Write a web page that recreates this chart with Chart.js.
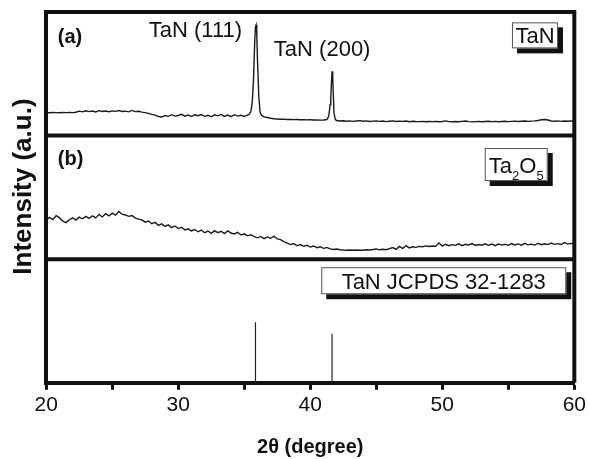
<!DOCTYPE html>
<html>
<head>
<meta charset="utf-8">
<title>XRD TaN / Ta2O5</title>
<script src="https://cdn.jsdelivr.net/npm/chart.js@4.4.1/dist/chart.umd.min.js"></script>
<style>
  html, body { margin: 0; padding: 0; background: #fff; }
  #wrap { width: 589px; height: 459px; }
</style>
</head>
<body>
<div id="wrap"><canvas id="mycanvas"></canvas></div>
<script>
// (a) TaN film - 2theta and intensity (a.u., 0-100 inside its panel)
var tanTheta = [
  20.00, 20.25, 20.50, 20.75, 21.00, 21.25, 21.50, 21.75, 22.00, 22.25,
  22.50, 22.75, 23.00, 23.25, 23.50, 23.75, 24.00, 24.25, 24.50, 24.75,
  25.00, 25.25, 25.50, 25.75, 26.00, 26.25, 26.50, 26.75, 27.00, 27.25,
  27.50, 27.75, 28.00, 28.25, 28.50, 28.75, 29.00, 29.25, 29.50, 29.75,
  30.00, 30.25, 30.50, 30.75, 31.00, 31.25, 31.50, 31.75, 32.00, 32.25,
  32.50, 32.75, 33.00, 33.25, 33.50, 33.75, 34.00, 34.25, 34.50, 34.75,
  35.00, 35.25,
  35.40, 35.50, 35.60, 35.70, 35.80, 35.85, 35.90, 35.95, 36.00, 36.10, 36.20, 36.30, 36.50,
  36.75, 37.00, 37.25, 37.50, 37.75, 38.00, 38.25, 38.50, 38.75, 39.00,
  39.25, 39.50, 39.75, 40.00, 40.25, 40.50, 40.75, 41.00,
  41.20, 41.30, 41.40, 41.45, 41.50, 41.55, 41.60, 41.65, 41.70, 41.75, 41.80, 41.90, 42.00,
  42.25, 42.50, 42.75, 43.00, 43.25, 43.50, 43.75, 44.00, 44.25, 44.50,
  44.75, 45.00, 45.25, 45.50, 45.75, 46.00, 46.25, 46.50, 46.75, 47.00,
  47.25, 47.50, 47.75, 48.00, 48.25, 48.50, 48.75, 49.00, 49.25, 49.50,
  49.75, 50.00, 50.25, 50.50, 50.75, 51.00, 51.25, 51.50, 51.75, 52.00,
  52.25, 52.50, 52.75, 53.00, 53.25, 53.50, 53.75, 54.00, 54.25, 54.50,
  54.75, 55.00, 55.25, 55.50, 55.75, 56.00, 56.25, 56.50, 56.75, 57.00,
  57.25, 57.50, 57.75, 58.00, 58.25, 58.50, 58.75, 59.00, 59.25, 59.50,
  59.75, 60.00
];
var tanIntensity = [
  18.6, 18.5, 18.7, 18.6, 18.5, 18.7, 18.6, 18.8, 18.6, 18.9,
  19.8, 19.2, 20.1, 19.4, 19.9, 19.1, 20.2, 19.5, 19.9, 19.3,
  20.0, 19.6, 20.3, 19.5, 19.8, 19.2, 20.4, 19.4, 19.7, 19.0,
  18.6, 18.0, 17.2, 16.6, 15.4, 15.0, 16.2, 15.6, 16.9, 15.8,
  16.3, 17.2, 15.7, 16.6, 15.4, 16.9, 16.1, 17.0, 15.6, 16.4,
  15.2, 16.8, 16.0, 17.1, 15.5, 16.6, 15.3, 16.9, 15.8, 16.4,
  15.6, 16.5,
  17.5, 19.5, 26.0, 45.0, 78.0, 88.0, 89.5, 82.0, 62.0, 32.0, 19.0, 16.5, 15.2,
  14.6, 14.0, 13.6, 13.4, 13.2, 13.3, 13.0, 13.1, 12.9, 13.0,
  12.8, 12.9, 12.7, 12.8, 12.6, 12.7, 12.5, 12.6,
  12.8, 13.5, 16.0, 20.0, 25.0, 30.0, 42.0, 52.0, 47.0, 32.0, 18.0, 13.0, 12.2,
  11.8, 12.0, 11.6, 11.9, 11.5, 11.8, 12.1, 11.6, 11.9, 11.4,
  11.7, 11.9, 11.5, 11.8, 11.3, 11.6, 11.9, 11.4, 11.7, 11.5,
  11.8, 11.2, 11.6, 11.4, 11.3, 11.5, 11.2, 11.4, 11.3, 11.5,
  11.2, 11.4, 11.9, 11.3, 11.2, 11.4, 11.2, 11.5, 11.8, 11.3,
  11.1, 11.3, 11.5, 11.2, 11.4, 11.6, 11.3, 11.5, 11.2, 11.4,
  11.6, 11.3, 11.5, 11.7, 11.4, 11.6, 11.8, 11.5, 11.7, 11.9,
  12.2, 12.8, 13.0, 12.6, 11.8, 11.6, 11.9, 11.5, 11.8, 11.6,
  11.9, 11.7
];

// (b) Ta2O5 film - scanned every 0.25 deg from 20 to 60
var oxideStart = 20;
var oxideStep = 0.25;
var oxideIntensity = [
  31.5, 33.8, 32.0, 35.2, 33.6, 30.8, 29.6, 31.9, 33.5, 31.6,
  34.0, 32.7, 34.6, 33.0, 35.1, 33.4, 36.3, 34.2, 36.8, 35.0,
  37.2, 35.6, 38.6, 36.4, 35.8, 34.7, 35.3, 33.2, 32.4, 31.8,
  30.0, 30.9, 28.7, 29.8, 27.4, 28.6, 26.5, 27.8, 25.6, 26.9,
  24.8, 25.9, 23.7, 24.6, 22.9, 24.0, 22.2, 23.6, 21.4, 22.8,
  20.9, 23.1, 21.5, 22.6, 20.7, 22.9, 21.2, 20.4, 21.8, 19.6,
  20.5, 18.9, 19.8, 18.2, 17.3, 18.4, 16.6, 18.0, 16.9, 18.6,
  16.4, 15.8, 14.2, 13.0, 11.8, 12.6, 10.9, 11.8, 10.4, 11.3,
  9.8, 10.7, 9.3, 10.1, 8.8, 9.5, 8.4, 7.9, 8.2, 7.6,
  7.4, 7.3, 7.5, 7.3, 7.4, 7.2, 7.3, 7.6, 7.4, 7.8,
  8.3, 7.6, 8.1, 7.7, 8.6, 9.4, 8.0, 10.3, 8.7, 10.9,
  9.1, 10.0, 9.6, 10.4, 10.1, 10.8, 10.3, 10.7, 10.4, 13.2,
  10.6, 12.1, 10.9, 11.8, 11.2, 12.4, 11.0, 12.1, 11.5, 12.6,
  11.1, 11.9, 11.3, 12.5, 11.2, 12.2, 11.0, 12.3, 11.4, 12.1,
  11.2, 12.6, 11.5, 12.4, 11.3, 12.8, 11.6, 12.2, 11.4, 12.9,
  11.7, 12.5, 11.8, 13.1, 12.0, 12.6, 11.9, 13.4, 12.2, 12.8,
  12.4
];

// (c) TaN JCPDS 32-1283 reference lines
var refTheta = [35.85, 41.65];
var refIntensity = [49, 39.7];

// each panel gets 100 units of the shared y axis
var panelOffset = { tan: 200, oxide: 100, ref: 0 };

var FONT = '"Liberation Sans", Arial, Helvetica, sans-serif';

// build point lists
var tanPoints = [];
for (var i = 0; i < tanTheta.length; i++) {
  tanPoints.push({ x: tanTheta[i], y: tanIntensity[i] + panelOffset.tan });
}
var oxidePoints = [];
for (var i = 0; i < oxideIntensity.length; i++) {
  oxidePoints.push({ x: oxideStart + i * oxideStep, y: oxideIntensity[i] + panelOffset.oxide });
}
var refPoints = [];
for (var i = 0; i < refTheta.length; i++) {
  refPoints.push({ x: refTheta[i], y: panelOffset.ref });
  refPoints.push({ x: refTheta[i], y: refIntensity[i] + panelOffset.ref });
  refPoints.push({ x: refTheta[i] + 0.01, y: null });
}

// text notes placed in data coordinates (theta, y value)
var notes = [
  { text: '(a)', x: 21.8, y: 279, bold: true, size: 20 },
  { text: '(b)', x: 21.85, y: 181, bold: true, size: 20 },
  { text: 'TaN (111)', x: 31.3, y: 284.5, size: 22 },
  { text: 'TaN (200)', x: 40.9, y: 269.5, size: 22 }
];
var boxes = [
  { parts: [['TaN', 0]], x: 57.02, y: 281.1, w: 46, h: 26 },
  { parts: [['Ta', 0], ['2', 1], ['O', 0], ['5', 1]], x: 55.6, y: 176.6, w: 63, h: 33 },
  { parts: [['TaN JCPDS 32-1283', 0]], x: 50.11, y: 82.6, w: 245, h: 27 }
];

var framePlugin = {
  id: 'frame',
  afterDatasetsDraw: function(chart) {
    var ctx = chart.ctx;
    var area = chart.chartArea;
    var xs = chart.scales.x;
    var ys = chart.scales.y;
    ctx.save();

    // top, right and the two panel dividers
    ctx.strokeStyle = '#111';
    ctx.lineWidth = 4;
    ctx.beginPath();
    ctx.moveTo(area.left - 2, area.top);
    ctx.lineTo(area.right + 2, area.top);
    ctx.moveTo(area.right, area.top);
    ctx.lineTo(area.right, area.bottom);
    [panelOffset.oxide, panelOffset.tan].forEach(function(v) {
      var py = ys.getPixelForValue(v);
      ctx.moveTo(area.left, py);
      ctx.lineTo(area.right, py);
    });
    ctx.stroke();

    // labels
    ctx.fillStyle = '#111';
    ctx.textAlign = 'center';
    ctx.textBaseline = 'middle';
    notes.forEach(function(n) {
      ctx.font = (n.bold ? 'bold ' : '') + n.size + 'px ' + FONT;
      ctx.fillText(n.text, xs.getPixelForValue(n.x), ys.getPixelForValue(n.y));
    });

    // boxed sample names with a dark drop shadow
    boxes.forEach(function(b) {
      var cx = xs.getPixelForValue(b.x);
      var cy = ys.getPixelForValue(b.y);
      var left = cx - b.w / 2;
      var top = cy - b.h / 2;
      ctx.fillStyle = '#111';
      ctx.fillRect(left + 5, top + 5, b.w, b.h);
      ctx.fillStyle = '#fff';
      ctx.fillRect(left, top, b.w, b.h);
      ctx.strokeStyle = '#555';
      ctx.lineWidth = 1;
      ctx.strokeRect(left + 0.5, top + 0.5, b.w - 1, b.h - 1);

      var total = 0;
      b.parts.forEach(function(p) {
        ctx.font = (p[1] ? 13 : 22) + 'px ' + FONT;
        total += ctx.measureText(p[0]).width;
      });
      var px = cx - total / 2;
      ctx.fillStyle = '#111';
      ctx.textAlign = 'left';
      ctx.textBaseline = 'alphabetic';
      b.parts.forEach(function(p) {
        ctx.font = (p[1] ? 13 : 22) + 'px ' + FONT;
        ctx.fillText(p[0], px, cy + 8 + (p[1] ? 7 : 0));
        px += ctx.measureText(p[0]).width;
      });
      ctx.textAlign = 'center';
      ctx.textBaseline = 'middle';
    });
    ctx.restore();
  }
};

var ctx = document.getElementById('mycanvas');

var xrdChart = new Chart(ctx, {
  type: 'line',
  data: {
    datasets: [
      { label: 'TaN', data: tanPoints, borderColor: '#1a1a1a', borderWidth: 1.4 },
      { label: 'Ta2O5', data: oxidePoints, borderColor: '#1a1a1a', borderWidth: 1.4 },
      { label: 'TaN JCPDS 32-1283', data: refPoints, borderColor: '#222', borderWidth: 1.2, spanGaps: false }
    ]
  },
  options: {
    responsive: true,
    maintainAspectRatio: false,
    animation: false,
    layout: { padding: { left: 7, top: 12, right: 12, bottom: 0 } },
    elements: {
      point: { radius: 0 },
      line: { tension: 0, fill: false }
    },
    plugins: {
      legend: { display: false },
      tooltip: { enabled: false }
    },
    scales: {
      x: {
        type: 'linear',
        min: 20,
        max: 60,
        ticks: {
          stepSize: 5,
          color: '#111',
          padding: 3,
          maxRotation: 0,
          font: { family: FONT, size: 21 },
          callback: function(v) { return v % 10 === 0 ? v : ''; }
        },
        grid: {
          drawOnChartArea: false,
          tickLength: 7,
          tickColor: '#111',
          tickWidth: 3
        },
        border: { color: '#111', width: 4 },
        title: {
          display: true,
          text: '2\u03b8 (degree)',
          color: '#111',
          font: { family: FONT, size: 20, weight: 'bold' },
          padding: { top: 14, bottom: 0 }
        }
      },
      y: {
        min: 0,
        max: 300,
        ticks: { display: false },
        grid: { drawOnChartArea: false, drawTicks: false },
        border: { color: '#111', width: 4 },
        title: {
          display: true,
          text: '   Intensity (a.u.)',
          color: '#111',
          font: { family: FONT, size: 26, weight: 'bold' },
          padding: { top: 1, bottom: 7 }
        }
      }
    }
  },
  plugins: [framePlugin]
});
</script>
</body>
</html>
